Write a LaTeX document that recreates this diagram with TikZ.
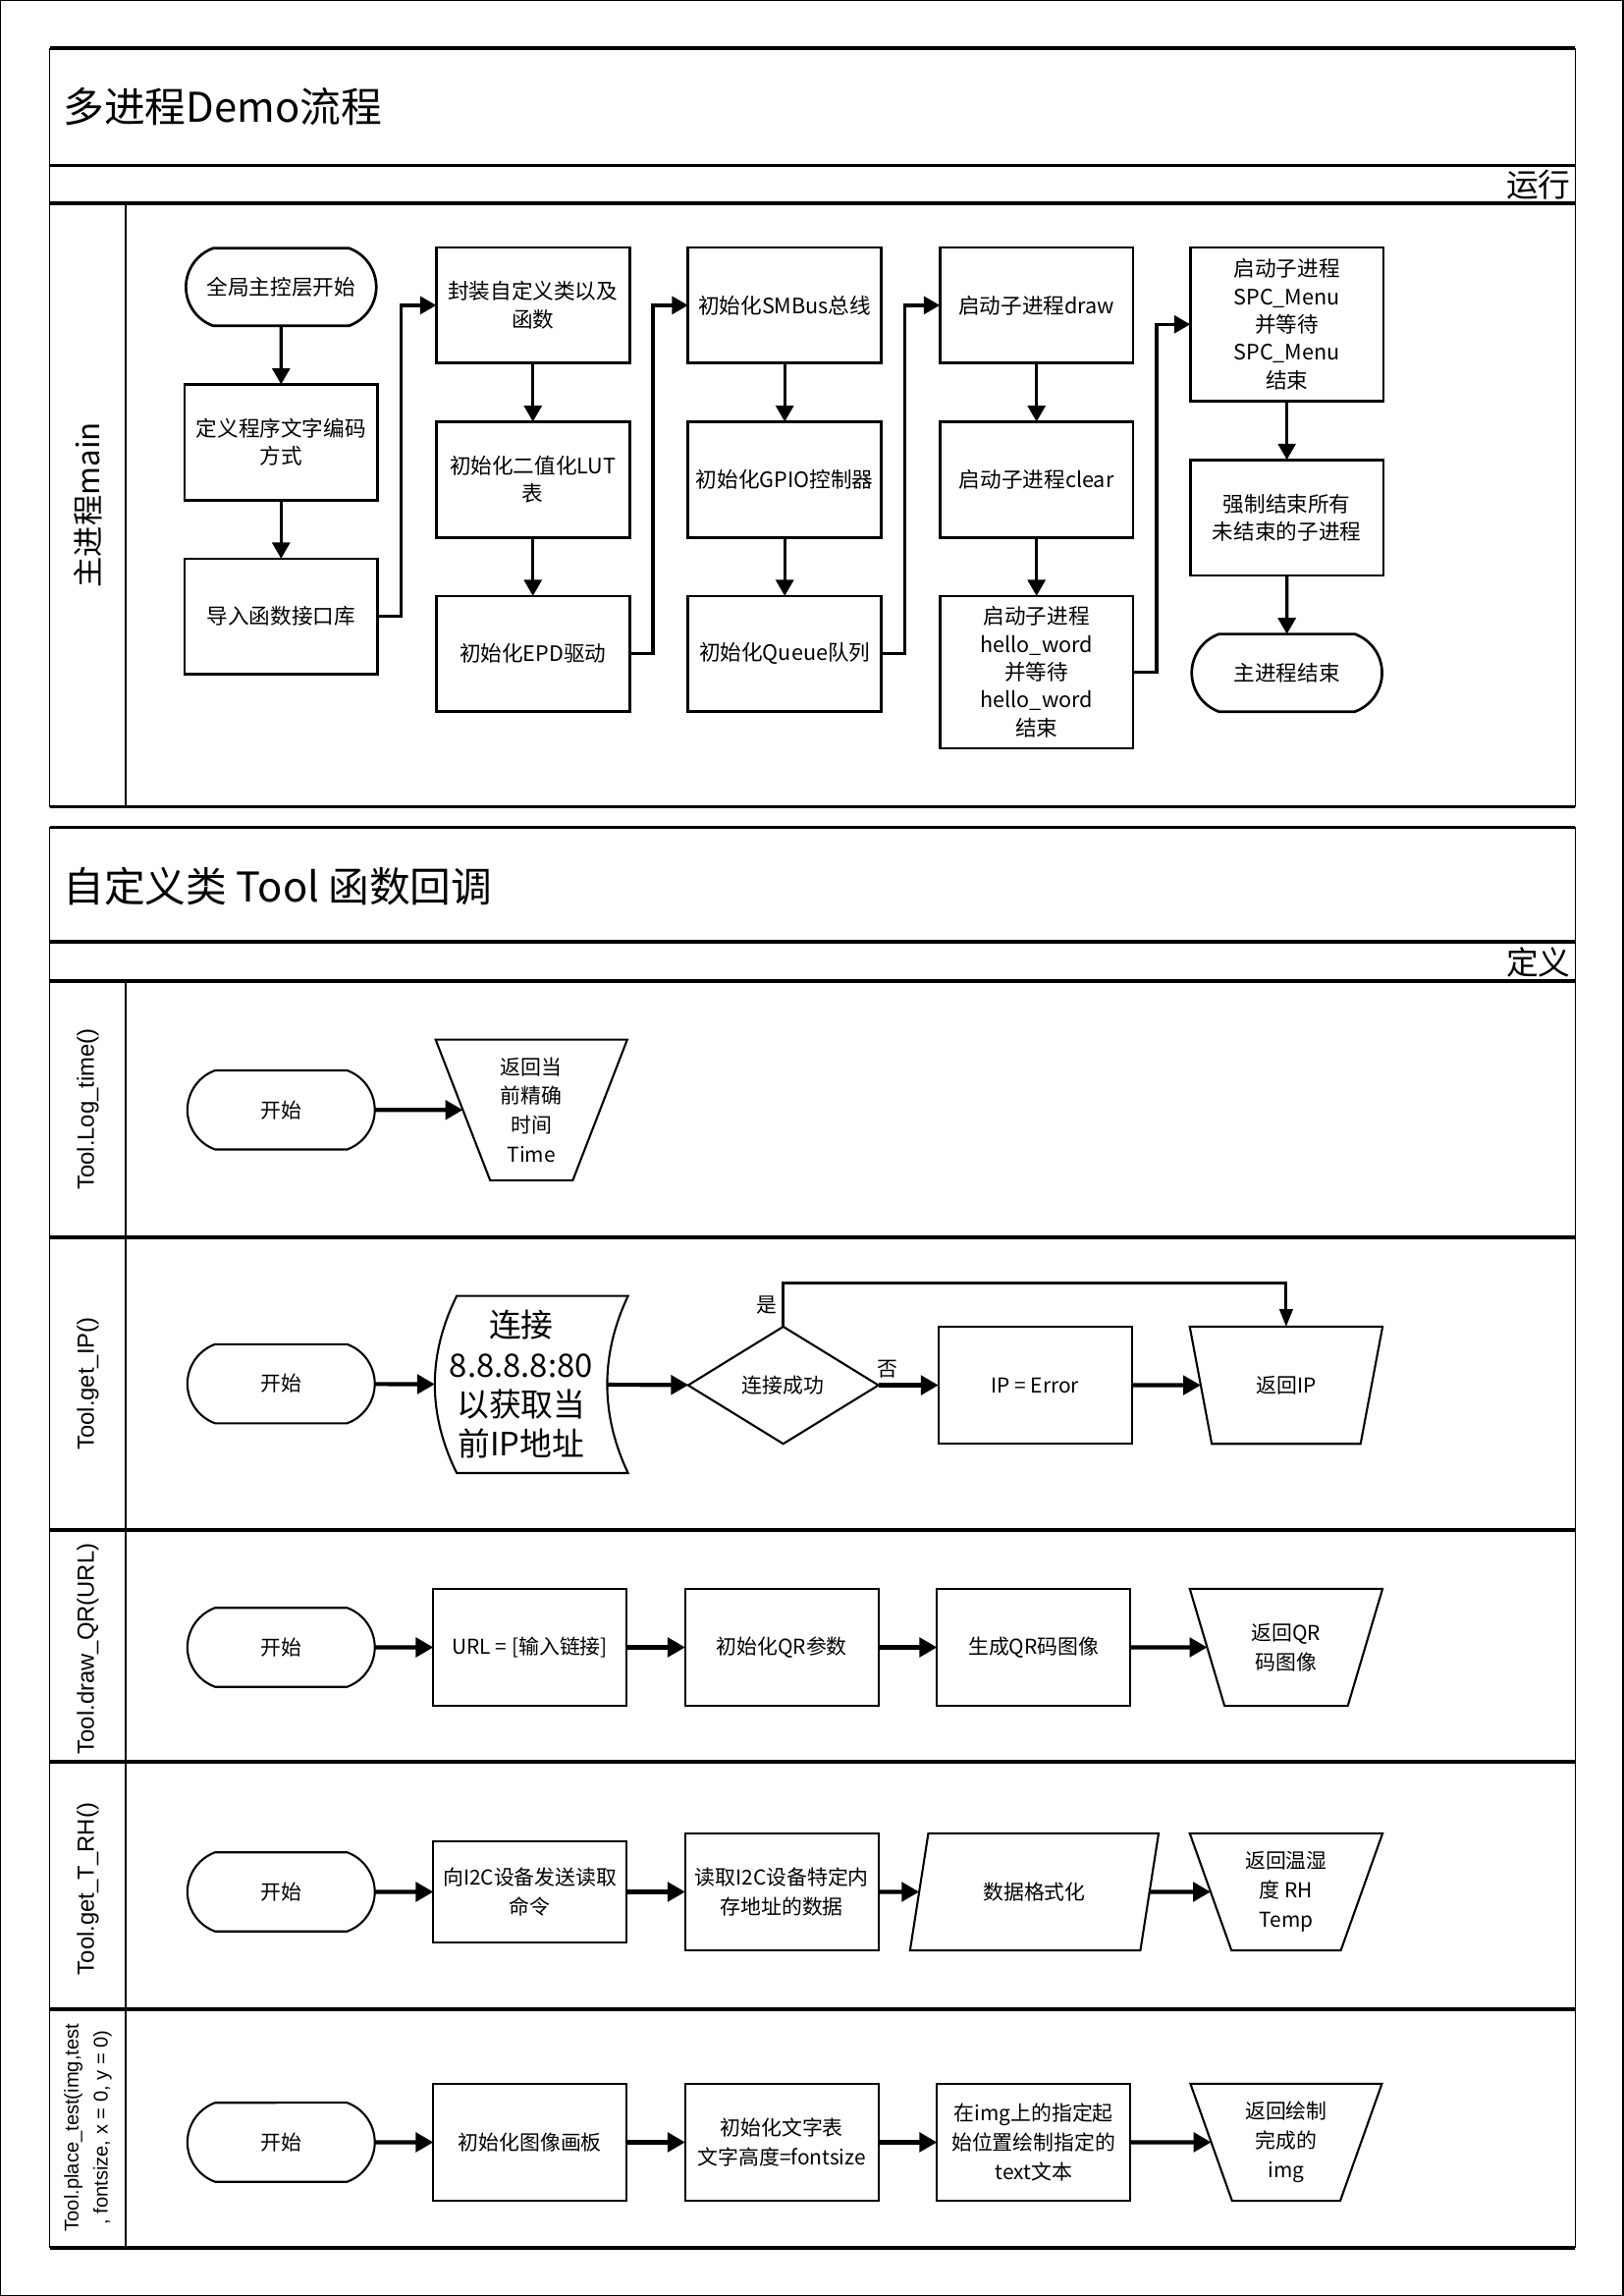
\documentclass[tikz,border=0pt]{standalone}
\usepackage{fontspec}
\setmainfont{Noto Sans CJK SC}
\newfontfamily\lanefont{Liberation Sans}
\usetikzlibrary{shapes.geometric,shapes.misc,arrows.meta,positioning,calc}
\newcommand{\boxfont}{\fontsize{14.5}{19}\selectfont}
\newcommand{\lowfont}{\fontsize{14}{20}\selectfont}
\tikzstyle{term} = [rounded rectangle, rounded rectangle arc length=140, draw=black, line width=1.8pt, minimum width=134pt, minimum height=53pt, inner sep=2pt, outer sep=0pt, font=\boxfont]
\tikzstyle{proc} = [rectangle, draw=black, line width=1.8pt, minimum width=132pt, minimum height=79pt, align=center, inner sep=2pt, outer sep=0pt, font=\boxfont]
\tikzstyle{lterm} = [term, line width=1.4pt, minimum width=132pt, minimum height=54pt, font=\lowfont]
\tikzstyle{lproc} = [proc, line width=1.4pt, minimum height=80pt, font=\lowfont]
\tikzstyle{manual} = [trapezium, shape border rotate=180, trapezium left angle=70, trapezium right angle=70, trapezium stretches=true, draw=black, line width=1.4pt, minimum width=132pt, minimum height=80pt, align=center, inner xsep=0pt, inner ysep=2pt, outer sep=0pt, font=\lowfont]
\tikzstyle{iodata} = [trapezium, trapezium left angle=65, trapezium right angle=115, trapezium stretches=true, draw=black, line width=1.4pt, minimum width=171pt, minimum height=80pt, align=center, inner sep=0pt, outer sep=0pt, font=\lowfont]
\tikzstyle{dec} = [diamond, aspect=1.6, draw=black, line width=1.4pt, minimum width=130pt, minimum height=80pt, inner sep=0pt, outer sep=0pt, font=\lowfont]
\tikzstyle{tapebox} = [rectangle, minimum width=118pt, minimum height=121pt, align=center, inner sep=0pt, outer sep=0pt, font=\fontsize{22}{27}\selectfont]
\tikzstyle{lshape} = [draw=black, line width=1.4pt]
\tikzstyle{lane} = [rotate=90, align=center, inner sep=0pt, font=\lanefont\fontsize{16}{20}\selectfont]
\tikzstyle{title} = [anchor=west, inner sep=0pt, font=\fontsize{28}{32}\selectfont]
\tikzstyle{tag} = [anchor=east, inner sep=0pt, font=\fontsize{22}{24}\selectfont]
\tikzstyle{tedge} = [draw, line width=2.2pt, -{Triangle[length=11pt,width=12pt]}]
\tikzstyle{ledge} = [draw, line width=2.8pt, -{Triangle[length=12pt,width=13pt]}]
\tikzstyle{yesedge} = [draw, line width=2pt, -{Triangle[length=12pt,width=9pt]}]
\tikzstyle{hline} = [line width=2.4pt]
\tikzstyle{vline} = [line width=1pt]

\begin{document}
\begin{tikzpicture}[x=1pt, y=-1pt]

\useasboundingbox (0,0) rectangle (1109,1568);
\draw[line width=1pt] (0.5,0.5) rectangle (1108.5,1567.5);

% pools ==================================
\foreach \y in {33,113,139,551,565,643,670,845,1045,1203,1372,1535}
  \draw[hline] (34,\y) -- (1076,\y);
\draw[vline] (34,33) -- (34,551) (1076,33) -- (1076,551) (86,139) -- (86,551);
\draw[vline] (34,565) -- (34,1535) (1076,565) -- (1076,1535) (86,670) -- (86,1535);

\node[title] (t1) at (43,73) {多进程Demo流程};
\node[tag] (r1) at (1073,126) {运行};
\node[title] (t2) at (43,605) {自定义类 Tool 函数回调};
\node[tag] (r2) at (1073,657) {定义};

\node[lane, font=\fontsize{21}{24}\selectfont] (lmain) at (60,345) {主进程main};
\node[lane] (lt1) at (60,757.5) {Tool.Log\_time()};
\node[lane] (lt2) at (60,945) {Tool.get\_IP()};
\node[lane] (lt3) at (60,1126) {Tool.draw\_QR(URL)};
\node[lane] (lt4) at (60,1290) {Tool.get\_T\_RH()};
\node[lane, font=\lanefont\fontsize{13.5}{20}\selectfont] (lt5) at (60,1453) {Tool.place\_test(img,test\\, fontsize, x = 0, y = 0)};

% main process ===========================
\node[term] (start) at (192,196) {全局主控层开始};
\node[proc, below=40pt of start] (enc) {定义程序文字编码\\方式};
\node[proc, below=40pt of enc] (imp) {导入函数接口库};

\node[proc] (wrap) at (364,208.5) {封装自定义类以及\\函数};
\node[proc, below=40pt of wrap] (lut) {初始化二值化LUT\\表};
\node[proc, below=40pt of lut] (epd) {初始化EPD驱动};

\node[proc, right=40pt of wrap] (smb) {初始化SMBus总线};
\node[proc, below=40pt of smb] (gpio) {初始化GPIO控制器};
\node[proc, below=40pt of gpio] (queue) {初始化Queue队列};

\node[proc, right=40pt of smb] (drw) {启动子进程draw};
\node[proc, below=40pt of drw] (clr) {启动子进程clear};
\node[proc, below=40pt of clr, minimum height=104pt] (hello) {启动子进程\\hello\_word\\并等待\\hello\_word\\结束};

\node[proc, right=39pt of drw.north east, anchor=north west, minimum height=105pt] (spc) {启动子进程\\SPC\_Menu\\并等待\\SPC\_Menu\\结束};
\node[proc, below=40pt of spc] (kill) {强制结束所有\\未结束的子进程};
\node[term, below=40pt of kill] (stop) {主进程结束};

% edges main process
\path[tedge] (start) edge (enc);
\path[tedge] (enc) edge (imp);
\path[tedge] (imp.east) -- ++(16,0) |- (wrap.west);
\path[tedge] (wrap) edge (lut);
\path[tedge] (lut) edge (epd);
\path[tedge] (epd.east) -- ++(16,0) |- (smb.west);
\path[tedge] (smb) edge (gpio);
\path[tedge] (gpio) edge (queue);
\path[tedge] (queue.east) -- ++(16,0) |- (drw.west);
\path[tedge] (drw) edge (clr);
\path[tedge] (clr) edge (hello);
\path[tedge] (hello.east) -- ++(16,0) |- (spc.west);
\path[tedge] (spc) edge (kill);
\path[tedge] (kill) edge (stop);

% Tool.Log_time ==========================
\node[lterm] (logs) at (192,758) {开始};
\node[manual, minimum height=96pt] (logr) at (363,758) {返回当\\前精确\\时间\\Time};
\path[ledge] (logs) edge (logr);

% Tool.get_IP ============================
\node[lterm] (ips) at (192,945) {开始};
\node[tapebox] (ipc) at (356,945.5) {连接\\8.8.8.8:80\\以获取当\\前IP地址};
\draw[lshape] ($(ipc.north west)+(15,0)$) -- ($(ipc.north east)+(14,0)$)
  .. controls ($(ipc.north east)+(-5,40)$) and ($(ipc.south east)+(-5,-40)$) .. ($(ipc.south east)+(14,0)$)
  -- ($(ipc.south west)+(15,0)$)
  .. controls ($(ipc.south west)+(-5,-40)$) and ($(ipc.north west)+(-5,40)$) .. cycle;
\node[dec] (ipok) at (535,946) {连接成功};
\node[lproc] (iperr) at (707,946) {IP = Error};
\node[manual] (ipret) at (878.5,946) {返回IP};

\path[ledge] (ips) edge (ipc);
\path[ledge] (ipc) edge (ipok);
\path[ledge] (ipok) edge node[above, pos=0.15, font=\lowfont] {否} (iperr);
\path[ledge] (iperr) edge (ipret);
\path[yesedge] (ipok.north) -- node[left, font=\lowfont] {是} ++(0,-30) -| (ipret.north);

% Tool.draw_QR ===========================
\node[lterm] (qrs) at (192,1125) {开始};
\node[lproc, right=40pt of qrs] (qrurl) {URL = [输入链接]};
\node[lproc, right=40pt of qrurl] (qrini) {初始化QR参数};
\node[lproc, right=40pt of qrini] (qrgen) {生成QR码图像};
\node[manual] (qrret) at (878.5,1125) {返回QR\\码图像};

\path[ledge] (qrs) edge (qrurl);
\path[ledge] (qrurl) edge (qrini);
\path[ledge] (qrini) edge (qrgen);
\path[ledge] (qrgen) edge (qrret);

% Tool.get_T_RH ==========================
\node[lterm] (ths) at (192,1292) {开始};
\node[lproc, right=40pt of ths, minimum height=69pt] (thcmd) {向I2C设备发送读取\\命令};
\node[lproc, right=40pt of thcmd] (thrd) {读取I2C设备特定内\\存地址的数据};
\node[iodata] (thfmt) at (706.5,1292) {数据格式化};
\node[manual] (thret) at (878.5,1292) {返回温湿\\度 RH\\Temp};

\path[ledge] (ths) edge (thcmd);
\path[ledge] (thcmd) edge (thrd);
\path[ledge] (thrd) edge (thfmt);
\path[ledge] (thfmt) edge (thret);

% Tool.place_test ========================
\node[lterm] (txs) at (192,1463) {开始};
\node[lproc, right=40pt of txs] (txpad) {初始化图像画板};
\node[lproc, right=40pt of txpad] (txfnt) {初始化文字表\\文字高度=fontsize};
\node[lproc, right=40pt of txfnt] (txdrw) {在img上的指定起\\始位置绘制指定的\\text文本};
\node[manual] (txret) at (878.5,1463) {返回绘制\\完成的\\img};

\path[ledge] (txs) edge (txpad);
\path[ledge] (txpad) edge (txfnt);
\path[ledge] (txfnt) edge (txdrw);
\path[ledge] (txdrw) edge (txret);

\end{tikzpicture}
\end{document}
